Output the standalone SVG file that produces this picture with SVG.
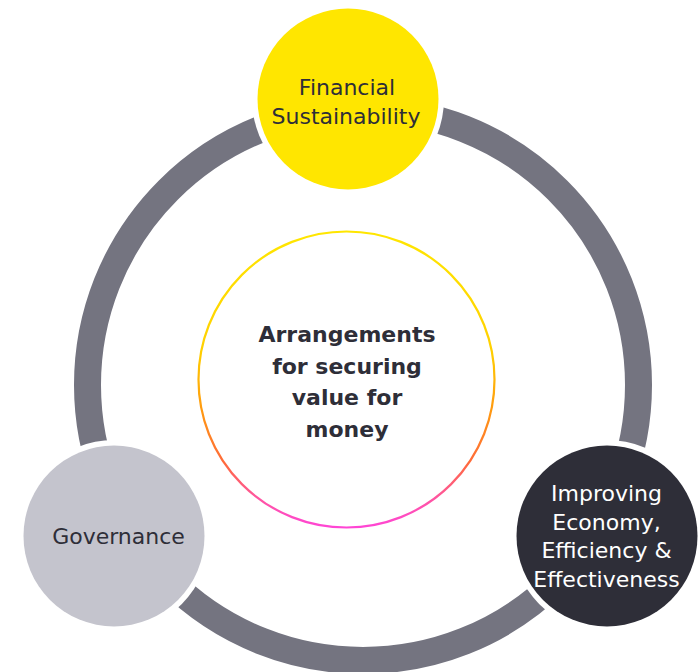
<svg xmlns="http://www.w3.org/2000/svg" width="699" height="672" viewBox="0 0 699 672">
<defs>
<linearGradient id="g" x1="0" y1="0" x2="0" y2="1">
<stop offset="0" stop-color="#FFE600"/>
<stop offset="0.4" stop-color="#FFD000"/>
<stop offset="0.6" stop-color="#FF9A10"/>
<stop offset="0.78" stop-color="#FF6A3A"/>
<stop offset="0.9" stop-color="#FF55A0"/>
<stop offset="1" stop-color="#FF45D5"/>
</linearGradient>
<style>
.t{font-family:"DejaVu Sans",sans-serif;font-size:22px;text-anchor:middle;fill:#2E2E38}
.b{font-weight:bold}
.w{fill:#FFFFFF}
.halo{fill:#FFFFFF}
</style>
</defs>
<rect width="699" height="672" fill="#FFFFFF"/>
<g id="connectors">
<circle cx="363" cy="385" r="275.5" fill="none" stroke="#747480" stroke-width="27"/>
</g>
<g id="center">
<circle cx="346.5" cy="379.5" r="148" fill="#FFFFFF" stroke="url(#g)" stroke-width="2.2"/>
<text class="t b" x="347" y="342">Arrangements</text>
<text class="t b" x="347" y="373.5">for securing</text>
<text class="t b" x="347" y="405">value for</text>
<text class="t b" x="347" y="436.5">money</text>
</g>
<g id="financial">
<circle class="halo" cx="348" cy="99" r="96"/>
<circle cx="348" cy="99" r="90.5" fill="#FFE600"/>
<text class="t" x="347" y="94.5">Financial</text>
<text class="t" x="346" y="124">Sustainability</text>
</g>
<g id="improving">
<circle class="halo" cx="607" cy="536" r="96"/>
<circle cx="607" cy="536" r="90.5" fill="#2E2E38"/>
<text class="t w" x="606.5" y="501">Improving</text>
<text class="t w" x="606.5" y="529.5">Economy,</text>
<text class="t w" x="606.5" y="558">Efficiency &amp;</text>
<text class="t w" x="606.5" y="587">Effectiveness</text>
</g>
<g id="governance">
<circle class="halo" cx="114" cy="536" r="96"/>
<circle cx="114" cy="536" r="90.5" fill="#C4C4CD"/>
<text class="t" x="118.5" y="543.5">Governance</text>
</g>
</svg>
